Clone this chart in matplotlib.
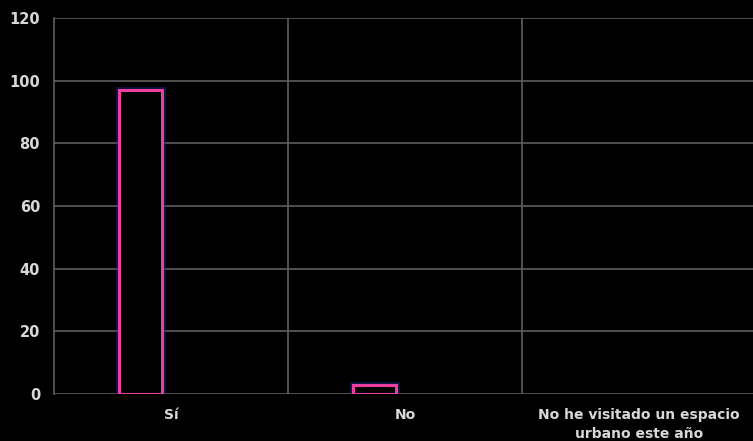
import matplotlib
matplotlib.use("Agg")
import matplotlib.pyplot as plt
import numpy as np

categories = ["Sí", "No", "No he visitado un espacio\nurbano este año"]
values = [97, 3, 0]
yticks = [0, 20, 40, 60, 80, 100, 120]

fig = plt.figure(figsize=(7.53, 4.41), dpi=100, facecolor="black")
ax = fig.add_axes([0.0717, 0.1066, 0.932, 0.8526], facecolor="black")

x = np.arange(len(categories))
vals = np.array(values, dtype=float)
mask = vals > 0
offset = -0.13
width = 0.185
# glow
ax.bar(x[mask] + offset, vals[mask], width=width, facecolor="none", edgecolor="#1a2a8a",
       linewidth=5, alpha=0.45, zorder=3)
ax.bar(x[mask] + offset, vals[mask], width=width, facecolor="black", edgecolor="#ee3fa0",
       linewidth=2.2, zorder=4)

ax.set_xlim(-0.5, 2.5)
ax.set_ylim(0, 120)
ax.set_yticks(yticks)
ax.set_xticks(x)
ax.set_xticklabels(categories, color="#d8d8d8", fontsize=10, fontweight="bold",
                   linespacing=1.45)
for lbl in ax.get_yticklabels():
    lbl.set_color("#d8d8d8")
    lbl.set_fontsize(10.5)
    lbl.set_fontweight("bold")
ax.tick_params(axis="both", length=0, pad=10)
ax.tick_params(axis="x", pad=10)

ax.grid(axis="y", color="#5e5e5e", linewidth=1.2, zorder=0)
for b in [0.5, 1.5]:
    ax.axvline(b, color="#5e5e5e", linewidth=1.2, zorder=0)
for s in ["top", "right", "bottom"]:
    ax.spines[s].set_visible(False)
ax.spines["left"].set_color("#5e5e5e")
ax.spines["left"].set_linewidth(1.2)

fig.savefig("out.png", dpi=100, facecolor="black")
